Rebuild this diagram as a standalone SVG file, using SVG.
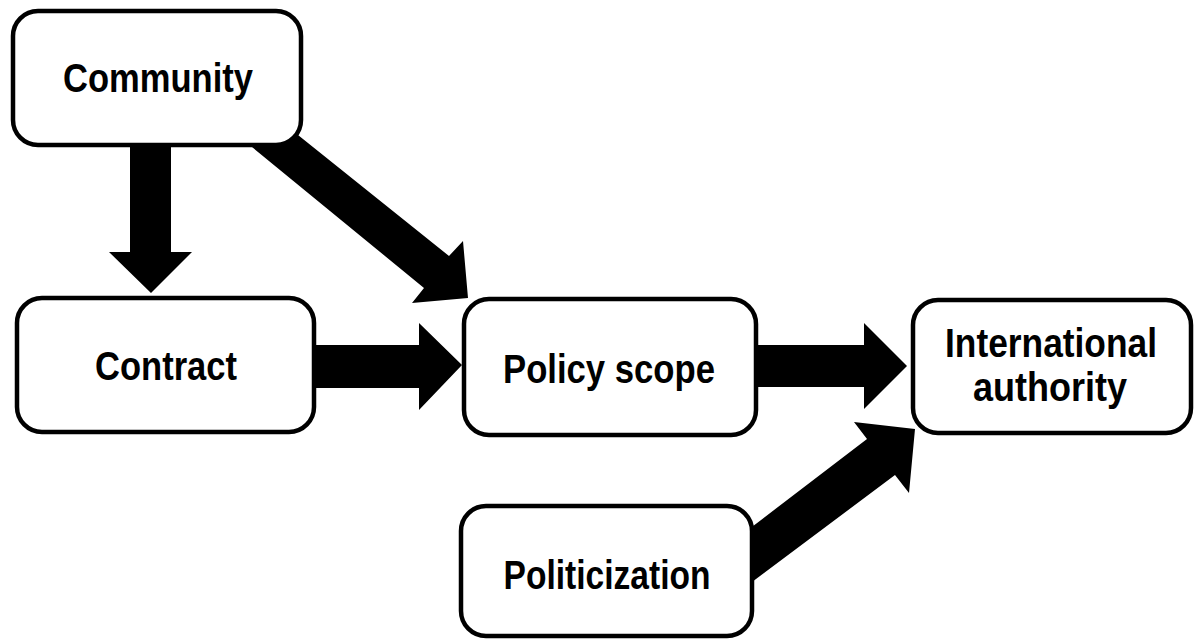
<svg xmlns="http://www.w3.org/2000/svg" width="1194" height="641" viewBox="0 0 1194 641">
<style>
.box{fill:#fff;stroke:#000;stroke-width:4.5}
.lbl{font-family:"Liberation Sans",Arial,sans-serif;font-weight:bold;font-size:40px;fill:#000;text-anchor:middle}
.arr{fill:#000;stroke:none}
</style>
<rect width="1194" height="641" fill="#fff"/>
<g id="connectors">
<polygon class="arr" points="130,140 171,140 171,252 192,252 151,293 109,252 130,252"/>
<polygon class="arr" points="310,345 419,345 419,323 462,365 419,410 419,388 310,388"/>
<polygon class="arr" points="750,345 864,345 864,323 907,366 864,409 864,387 750,387"/>
<polygon class="arr" points="288,127 449,256 463,241 468,298 412,303 424,288 241,138"/>
<polygon class="arr" points="740,536 867,439 854,422 915,429 909,493 895,475 740,591"/>
</g>
<g id="community">
<rect class="box" x="13" y="11" width="288" height="134" rx="25"/>
<text class="lbl" x="158" y="92" textLength="190" lengthAdjust="spacingAndGlyphs">Community</text>
</g>
<g id="contract">
<rect class="box" x="17" y="298" width="297" height="134" rx="25"/>
<text class="lbl" x="166" y="380" textLength="142" lengthAdjust="spacingAndGlyphs">Contract</text>
</g>
<g id="policy-scope">
<rect class="box" x="464" y="299" width="292" height="136" rx="25"/>
<text class="lbl" x="609" y="383" textLength="212" lengthAdjust="spacingAndGlyphs">Policy scope</text>
</g>
<g id="international-authority">
<rect class="box" x="913" y="300" width="278" height="133" rx="25"/>
<text class="lbl" x="1051" y="357" textLength="212" lengthAdjust="spacingAndGlyphs">International</text>
<text class="lbl" x="1050" y="401" textLength="154" lengthAdjust="spacingAndGlyphs">authority</text>
</g>
<g id="politicization">
<rect class="box" x="461" y="506" width="291" height="130" rx="25"/>
<text class="lbl" x="607" y="589" textLength="207" lengthAdjust="spacingAndGlyphs">Politicization</text>
</g>
</svg>
